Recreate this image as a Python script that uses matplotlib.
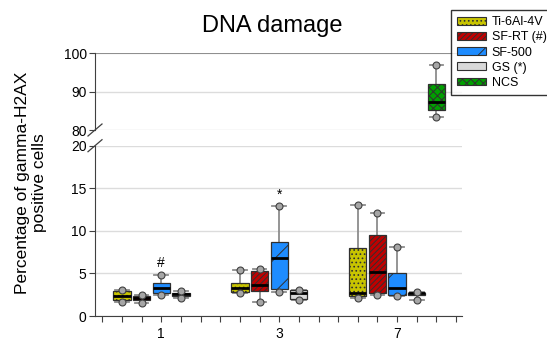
import matplotlib
matplotlib.use("Agg")
import matplotlib.pyplot as plt
from matplotlib.patches import Patch

plt.rcParams['font.family'] = ['Liberation Sans', 'DejaVu Sans']
plt.rcParams['hatch.linewidth'] = 0.7

# days on the x axis
days = ['1', '3', '7']
series = ['Ti-6Al-4V', 'SF-RT (#)', 'SF-500', 'GS (*)', 'NCS']

# box stats per day: [whisker low, q1, median, q3, whisker high]
ti6al4v = [[1.68, 1.87, 2.34, 2.92, 3.04],
           [2.65, 2.80, 3.31, 3.90, 5.38],
           [2.10, 2.34, 2.73, 7.99, 13.0]]
sf_rt = [[1.56, 1.87, 2.10, 2.34, 2.42],
         [1.64, 2.88, 3.59, 5.26, 5.50],
         [2.46, 2.65, 5.22, 9.55, 12.05]]
sf_500 = [[2.50, 2.73, 3.31, 3.82, 4.80],
          [2.85, 3.12, 6.82, 8.73, 12.94],
          [2.34, 2.50, 3.27, 5.03, 8.07]]
gs = [[2.10, 2.34, 2.53, 2.73, 2.92],
      [1.90, 2.03, 2.65, 3.00, 3.04],
      [1.83, 2.50, 2.65, 2.73, 2.80]]
# positive control, only measured on day 7
ncs = [None, None, [83.5, 85.2, 87.2, 92.0, 97.0]]

# significance marks: (symbol, day index, series index, y)
marks = [('#', 0, 2, 6.2), ('*', 1, 2, 14.2)]

colors = ['#c8c400', '#c00000', '#1e8cff', '#d9d9d9', '#00a000']
hatches = ['....', '//////', '/', '', 'xxxx']
all_data = [ti6al4v, sf_rt, sf_500, gs, ncs]

fig = plt.figure(figsize=(5.47, 3.41), dpi=100)
left, width = 95 / 547, 367 / 547
ax_top = fig.add_axes([left, 1 - 130 / 341, width, 76.7 / 341])
ax_bot = fig.add_axes([left, 1 - 316 / 341, width, 170.3 / 341])


def stats(row):
    lo, q1, med, q3, hi = row
    return dict(whislo=lo, q1=q1, med=med, q3=q3, whishi=hi, fliers=[lo, hi])


for ax in (ax_top, ax_bot):
    for s, data in enumerate(all_data):
        for d, row in enumerate(data):
            if row is None:
                continue
            pos = 1 + 6 * d + s
            bp = ax.bxp([stats(row)], positions=[pos], widths=0.88,
                        capwidths=0.7, patch_artist=True,
                        boxprops=dict(facecolor=colors[s], edgecolor='#303030',
                                      hatch=hatches[s], linewidth=0.9),
                        medianprops=dict(color='black', linewidth=2),
                        whiskerprops=dict(color='#8c8c8c', linewidth=1.3),
                        capprops=dict(color='#8c8c8c', linewidth=1.3),
                        flierprops=dict(marker='o', markerfacecolor='#a6a6a6',
                                        markeredgecolor='#404040',
                                        markersize=5, markeredgewidth=0.8))
            for b in bp['boxes']:
                b.set_zorder(3)
            for m in bp['medians']:
                m.set_zorder(4)
            for f in bp['fliers']:
                f.set_zorder(5)
    ax.set_xlim(-0.37, 18.3)
    for side in ('top', 'right', 'bottom'):
        ax.spines[side].set_visible(False)
    ax.spines['left'].set_color('#404040')
    ax.tick_params(axis='y', direction='out', length=4, color='#404040',
                   labelsize=10, pad=2)
    ax.yaxis.grid(True, color='#dcdcdc', linewidth=1)
    ax.set_axisbelow(True)

ax_top.set_ylim(80, 100)
ax_top.set_yticks([80, 90, 100])
ax_top.set_xticks([])
ax_top.axhline(100, color='#808080', linewidth=1.2, zorder=1)

ax_bot.set_ylim(0, 20)
ax_bot.set_yticks([0, 5, 10, 15, 20])
ax_bot.spines['bottom'].set_visible(True)
ax_bot.spines['bottom'].set_color('#404040')
ax_bot.set_xticks(range(19))
ax_bot.set_xticklabels(['' if i not in (3, 9, 15) else days[(i - 3) // 6]
                        for i in range(19)])
ax_bot.tick_params(axis='x', direction='out', length=4, color='#404040',
                   labelsize=10, pad=4)

# break marks on the y axis
dx = 7 / 367
ax_top.plot([-dx, dx], [-6 / 76.7, 6 / 76.7], color='#404040', lw=0.9,
            transform=ax_top.transAxes, clip_on=False)
ax_bot.plot([-dx, dx], [1 - 6 / 170.3, 1 + 6 / 170.3], color='#404040', lw=0.9,
            transform=ax_bot.transAxes, clip_on=False)

for sym, d, s, y in marks:
    ax_bot.text(1 + 6 * d + s, y, sym, ha='center', va='center', fontsize=10)

fig.text(272 / 547, 1 - 26 / 341, 'DNA damage', ha='center', va='center',
         fontsize=17)
fig.text(31 / 547, 1 - 183 / 341, 'Percentage of gamma-H2AX\npositive cells',
         ha='center', va='center', rotation=90, fontsize=12.5,
         multialignment='center', linespacing=1.15)

handles = [Patch(facecolor=c, edgecolor='#303030', hatch=h, linewidth=0.8)
           for c, h in zip(colors, hatches)]
leg = fig.legend(handles, series, loc='upper left',
                 bbox_to_anchor=(451 / 547, 1 - 10 / 341), fontsize=9,
                 frameon=True, fancybox=False, edgecolor='black',
                 handlelength=2.3, handleheight=0.55, handletextpad=0.45,
                 labelspacing=0.25, borderpad=0.5, borderaxespad=0)
leg.get_frame().set_linewidth(1)

fig.savefig('out.png', dpi=100)
